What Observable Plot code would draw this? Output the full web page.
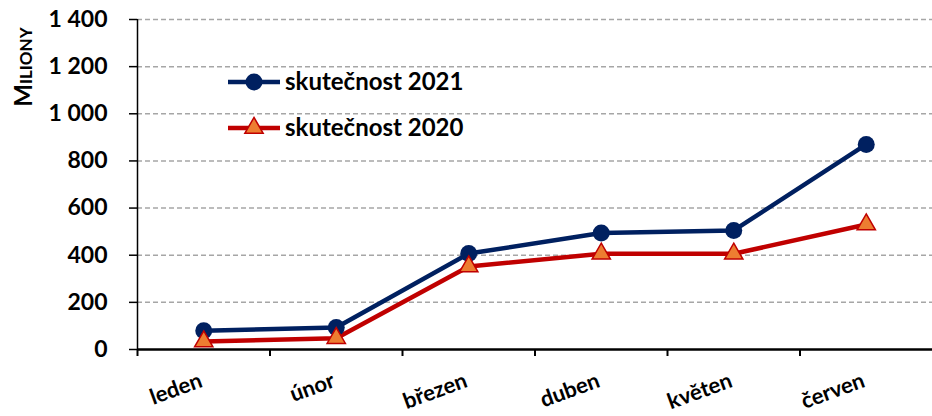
<!DOCTYPE html>
<html><head><meta charset="utf-8">
<script src="https://cdn.jsdelivr.net/npm/d3@7"></script>
<script src="https://cdn.jsdelivr.net/npm/@observablehq/plot@0.6"></script>
<style>
body{margin:0;background:#fff;}
#wrap{position:relative;width:932px;height:416px;font-family:Lato,"Open Sans",sans-serif;}
#overlay{position:absolute;left:0;top:0;pointer-events:none;}
</style></head><body><div id="wrap"></div>
<script>
const months = ["leden","únor","březen","duben","květen","červen"];
const actual2021 = [80, 93, 407, 494, 505, 870];
const actual2020 = [34, 48, 352, 406, 406, 530];
const yTicks = [0, 200, 400, 600, 800, 1000, 1200, 1400];
const gridTicks = [200, 400, 600, 800, 1000, 1200, 1400];
const seriesNames = ["skutečnost 2021", "skutečnost 2020"];
const yTitle = "Miliony";

const C21 = "#002060", C20 = "#C00000", F20 = "#ED7D31";
const rows21 = months.map((m, i) => ({i, month: m, value: actual2021[i]}));
const rows20 = months.map((m, i) => ({i, month: m, value: actual2020[i]}));
const fmt = d => d3.format(",")(d).replace(/,/g, " ");

const chart = Plot.plot({
  width: 932, height: 416,
  marginLeft: 137, marginRight: 0, marginTop: 19, marginBottom: 67,
  style: {fontFamily: "Lato, 'Open Sans', sans-serif", fontSize: "23px", fontWeight: "bold", color: "#000", background: "#fff"},
  x: {domain: [0, 6]},
  y: {domain: [0, 1400]},
  marks: [
    Plot.gridY(gridTicks, {stroke: "#a6a6a6", strokeOpacity: 1, strokeWidth: 1.5, strokeDasharray: "5,3"}),
    Plot.axisY(yTicks, {tickFormat: fmt, tickSize: 8, tickPadding: 22, label: null, strokeWidth: 1.5}),
    Plot.axisX(d3.range(0, 6), {tickFormat: () => "", tickSize: 7, label: null, strokeWidth: 2}),
    Plot.ruleX([0], {stroke: "#000", strokeWidth: 1.5}),
    Plot.ruleY([0], {stroke: "#000", strokeWidth: 2.5}),
    Plot.line(rows20, {x: d => d.i + 0.5, y: "value", stroke: C20, strokeWidth: 4.5}),
    Plot.line(rows21, {x: d => d.i + 0.5, y: "value", stroke: C21, strokeWidth: 4.5}),
    Plot.dot(rows21, {x: d => d.i + 0.5, y: "value", r: 8.5, fill: C21}),
    Plot.dot(rows20, {x: d => d.i + 0.5, y: "value", symbol: "triangle", r: 6.8, fill: F20, stroke: C20, strokeWidth: 1.5}),
    Plot.text(months, {x: (d, i) => i + 0.5, text: d => d, frameAnchor: "bottom", dy: 37, rotate: -20,
      textAnchor: "end", lineAnchor: "bottom", fontSize: 22, fontWeight: "bold", fill: "#000"})
  ]
});
const wrap = document.getElementById("wrap");
wrap.appendChild(chart);

// overlay: y title + legend
const ns = "http://www.w3.org/2000/svg";
const ov = d3.select(wrap).append("svg").attr("id", "overlay").attr("width", 932).attr("height", 416)
  .attr("xmlns", ns).style("font-family", "Lato, 'Open Sans', sans-serif").style("font-weight", "bold");
ov.append("text").attr("transform", "translate(32,67) rotate(-90)").attr("text-anchor", "middle")
  .style("font-size", "24px").style("font-variant", "small-caps").attr("fill", "#000").text(yTitle);

const leg = [{name: seriesNames[0], y: 82, c: C21, sym: "circle"}, {name: seriesNames[1], y: 128, c: C20, sym: "triangle"}];
leg.forEach(l => {
  ov.append("line").attr("x1", 228).attr("x2", 280).attr("y1", l.y).attr("y2", l.y)
    .attr("stroke", l.c).attr("stroke-width", 4.5);
  if (l.sym === "circle") {
    ov.append("circle").attr("cx", 254).attr("cy", l.y).attr("r", 8.5).attr("fill", C21);
  } else {
    ov.append("path").attr("d", d3.symbol(d3.symbolTriangle, Math.PI * 6.8 * 6.8)())
      .attr("transform", `translate(254,${l.y})`).attr("fill", F20).attr("stroke", C20).attr("stroke-width", 1.5);
  }
  ov.append("text").attr("x", 285).attr("y", l.y + 8).style("font-size", "24px").attr("fill", "#000").text(l.name);
});
</script></body></html>
